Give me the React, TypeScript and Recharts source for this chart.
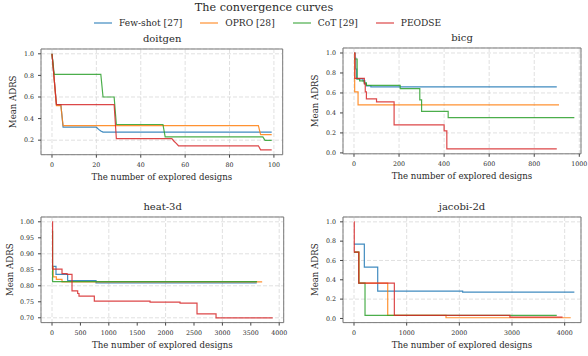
import {LineChart, Line, XAxis, YAxis, CartesianGrid, ReferenceArea} from 'recharts';

const seriesNames = ['Few-shot [27]', 'OPRO [28]', 'CoT [29]', 'PEODSE'];
const seriesColors = ['#1f77b4', '#ff7f0e', '#2ca02c', '#d62728'];

// [explored designs, mean ADRS]
const doitgenFewShot = [[0, 1.0], [2, 0.53], [4, 0.53], [5, 0.32], [20, 0.32], [21, 0.3], [22, 0.285], [23, 0.275], [99, 0.275]];
const doitgenOpro = [[0, 1.0], [2, 0.52], [4, 0.52], [5, 0.335], [93, 0.335], [94, 0.252], [99, 0.252]];
const doitgenCot = [[0, 1.0], [1, 0.81], [22, 0.81], [23, 0.6], [28, 0.6], [29, 0.345], [50, 0.345], [51, 0.23], [95, 0.23], [96, 0.198], [99, 0.198]];
const doitgenPeodse = [[0, 1.0], [2, 0.53], [28, 0.53], [29, 0.215], [54, 0.215], [55, 0.19], [56, 0.17], [57, 0.148], [93, 0.148], [94, 0.11], [99, 0.11]];

const bicgFewShot = [[0, 1.0], [5, 0.95], [8, 0.84], [12, 0.74], [40, 0.72], [48, 0.69], [55, 0.67], [75, 0.66], [900, 0.66]];
const bicgOpro = [[0, 1.0], [3, 0.61], [18, 0.48], [910, 0.48]];
const bicgCot = [[0, 0.94], [14, 0.74], [25, 0.72], [45, 0.7], [55, 0.675], [205, 0.643], [292, 0.53], [300, 0.415], [418, 0.353], [978, 0.353]];
const bicgPeodse = [[0, 1.0], [4, 0.745], [46, 0.69], [50, 0.61], [55, 0.54], [100, 0.51], [178, 0.28], [400, 0.22], [412, 0.04], [900, 0.04]];

const heatFewShot = [[0, 0.861], [70, 0.836], [275, 0.816], [775, 0.809], [3604, 0.809]];
const heatOpro = [[0, 0.86], [20, 0.828], [76, 0.82], [176, 0.812], [3700, 0.812]];
const heatCot = [[0, 0.97], [10, 0.813], [3610, 0.813]];
const heatPeodse = [[0, 1.0], [10, 0.852], [176, 0.838], [264, 0.836], [352, 0.784], [452, 0.776], [475, 0.768], [745, 0.752], [1726, 0.749], [2254, 0.746], [2553, 0.7125], [2888, 0.7], [3886, 0.7]];

const jacobiFewShot = [[0, 0.77], [196, 0.531], [450, 0.283], [2063, 0.272], [4184, 0.272]];
const jacobiOpro = [[0, 0.686], [95, 0.366], [640, 0.031], [1747, 0.007], [4115, 0.007]];
const jacobiCot = [[0, 0.686], [90, 0.366], [209, 0.031], [3850, 0.031]];
const jacobiPeodse = [[0, 1.0], [5, 0.686], [89, 0.366], [766, 0.031], [2960, 0.014], [3960, 0.014]];

const doitgenXTicks = [0, 20, 40, 60, 80, 100];
const bicgXTicks = [0, 200, 400, 600, 800, 1000];
const heatXTicks = [0, 500, 1000, 1500, 2000, 2500, 3000, 3500, 4000];
const jacobiXTicks = [0, 1000, 2000, 3000, 4000];
const doitgenYTicks = [0.2, 0.4, 0.6, 0.8, 1.0];
const unitYTicks = [0, 0.2, 0.4, 0.6, 0.8, 1.0];
const heatYTicks = [0.7, 0.75, 0.8, 0.85, 0.9, 0.95, 1.0];

const FONT = '"DejaVu Serif", serif';
const TEXT = '#2a2a2a';
const YW = 40;
const MT = 2;
const MR = 12;
const XH = 30;

const panels = [
  {title: 'doitgen', left: 41.3, top: 48.5, width: 241.7, height: 105.7, xDomain: [-4.95, 103.95], yDomain: [0.0655, 1.0445], xTicks: doitgenXTicks, yTicks: doitgenYTicks, digits: 1, labelOffset: 12, curve: 'linear', series: [doitgenFewShot, doitgenOpro, doitgenCot, doitgenPeodse]},
  {title: 'bicg', left: 343, top: 48.4, width: 238, height: 105.8, xDomain: [-48.8, 1007.5], yDomain: [-0.009, 1.05], xTicks: bicgXTicks, yTicks: unitYTicks, digits: 1, labelOffset: 12, curve: 'stepAfter', series: [bicgFewShot, bicgOpro, bicgCot, bicgPeodse]},
  {title: 'heat-3d', left: 41.3, top: 217.2, width: 242.7, height: 105.6, xDomain: [-194, 4079], yDomain: [0.685, 1.015], xTicks: heatXTicks, yTicks: heatYTicks, digits: 2, labelOffset: 9, curve: 'stepAfter', series: [heatFewShot, heatOpro, heatCot, heatPeodse]},
  {title: 'jacobi-2d', left: 343, top: 217.2, width: 238, height: 105.6, xDomain: [-209, 4310], yDomain: [-0.043, 1.05], xTicks: jacobiXTicks, yTicks: unitYTicks, digits: 1, labelOffset: 12, curve: 'stepAfter', series: [jacobiFewShot, jacobiOpro, jacobiCot, jacobiPeodse]},
];

function Panel({p}: {p: any}) {
  const tickStyle = {fontSize: 6.3, fill: TEXT, fontFamily: FONT};
  return (
    <>
      <div style={{position: 'absolute', left: p.left, width: p.width, top: p.top - 16, textAlign: 'center', fontSize: 10, color: TEXT}}>
        {p.title}
      </div>
      <div style={{position: 'absolute', left: p.left - YW, top: p.top - MT}}>
        <LineChart width={YW + p.width + MR} height={MT + p.height + XH} margin={{top: MT, right: MR, left: 0, bottom: 0}}>
          <CartesianGrid stroke="#dcdcdc" strokeDasharray="4 2" strokeWidth={0.9} />
          <XAxis
            type="number"
            dataKey="x"
            domain={p.xDomain}
            allowDataOverflow
            ticks={p.xTicks}
            height={XH}
            axisLine={false}
            tickLine={{stroke: '#444'}}
            tickSize={3}
            tickMargin={5}
            tick={tickStyle}
            label={{value: 'The number of explored designs', position: 'insideBottom', offset: 5, style: {fontSize: 8.6, fill: TEXT, fontFamily: FONT}}}
          />
          <YAxis
            type="number"
            domain={p.yDomain}
            allowDataOverflow
            ticks={p.yTicks}
            width={YW}
            axisLine={false}
            tickLine={{stroke: '#444'}}
            tickSize={3}
            tickMargin={4}
            tick={tickStyle}
            tickFormatter={(v: number) => v.toFixed(p.digits)}
            label={{value: 'Mean ADRS', angle: -90, position: 'insideLeft', offset: p.labelOffset, style: {fontSize: 8.6, fill: TEXT, fontFamily: FONT, textAnchor: 'middle'}}}
          />
          {p.series.map((pts: number[][], i: number) => (
            <Line
              key={seriesNames[i]}
              data={pts.map(([x, y]) => ({x, y}))}
              dataKey="y"
              type={p.curve}
              stroke={seriesColors[i]}
              strokeWidth={1.2}
              strokeOpacity={0.85}
              dot={false}
              isAnimationActive={false}
            />
          ))}
          <ReferenceArea x1={p.xDomain[0]} x2={p.xDomain[1]} y1={p.yDomain[0]} y2={p.yDomain[1]} fill="none" stroke="#7a7a7a" strokeWidth={1} ifOverflow="visible" />
        </LineChart>
      </div>
    </>
  );
}

export default function App() {
  return (
    <div style={{position: 'relative', width: 588, height: 356, background: '#fff', fontFamily: FONT, overflow: 'hidden'}}>
      <style>{'body{margin:0}'}</style>
      <div style={{position: 'absolute', left: 0, width: 528, top: 1, textAlign: 'center', fontSize: 11.2, color: TEXT}}>
        The convergence curves
      </div>
      <div style={{position: 'absolute', left: 94, top: 18, display: 'flex', alignItems: 'center', fontSize: 9.1, color: TEXT}}>
        {seriesNames.map((name, i) => (
          <div key={name} style={{display: 'flex', alignItems: 'center', marginRight: 18}}>
            <svg width={18} height={4}>
              <line x1={0} y1={2} x2={18} y2={2} stroke={seriesColors[i]} strokeWidth={1.2} strokeOpacity={0.85} />
            </svg>
            <span style={{marginLeft: 7}}>{name}</span>
          </div>
        ))}
      </div>
      {panels.map((p) => (
        <Panel key={p.title} p={p} />
      ))}
    </div>
  );
}
